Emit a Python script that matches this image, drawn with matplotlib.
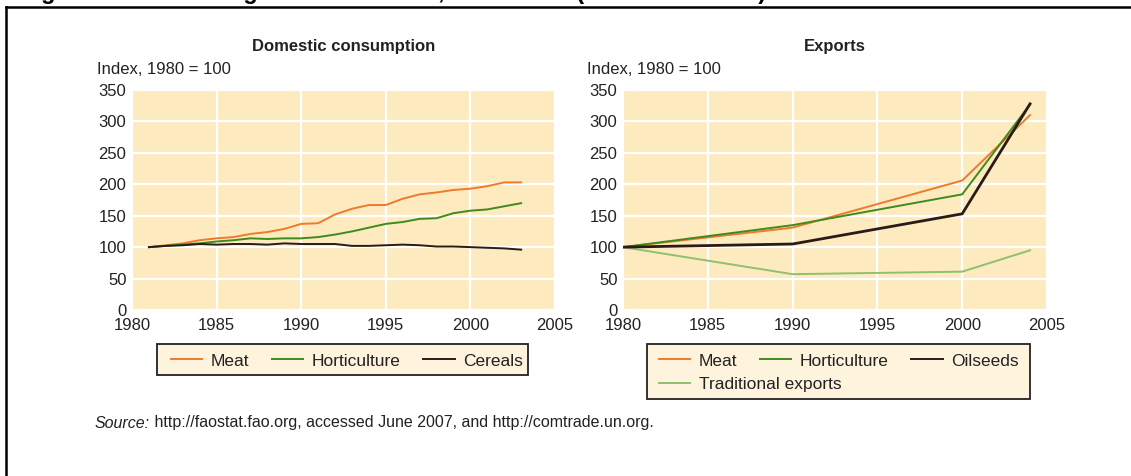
import matplotlib
matplotlib.use("Agg")
import matplotlib.pyplot as plt
from matplotlib.patches import Rectangle
from matplotlib.text import Annotation

plt.rcParams['font.family'] = ['Liberation Sans', 'DejaVu Sans']

# Domestic consumption, index 1980 = 100
dom_years = list(range(1981, 2004))
dom_meat = [100, 103, 106, 111, 114, 116, 121, 124, 129, 137, 138, 152,
            161, 167, 167, 177, 184, 187, 191, 193, 197, 203, 203]
dom_hort = [100, 102, 104, 106, 109, 111, 114, 113, 114, 114, 116, 120,
            125, 131, 137, 140, 145, 146, 154, 158, 160, 165, 170]
dom_cereals = [100, 102, 103, 105, 104, 105, 105, 104, 106, 105, 105, 105,
               102, 102, 103, 104, 103, 101, 101, 100, 99, 98, 96]

# Exports, index 1980 = 100
exp_years = [1980, 1990, 2000, 2004]
exp_meat = [100, 131, 206, 310]
exp_hort = [100, 135, 184, 327]
exp_oilseeds = [100, 105, 153, 328]
exp_trad = [100, 57, 61, 95]

xticks = [1980, 1985, 1990, 1995, 2000, 2005]
yticks = [0, 50, 100, 150, 200, 250, 300, 350]

c_meat = '#ef7a2c'
c_hort = '#3f8a1f'
c_dark = '#2a1b16'
c_trad = '#8fc06f'
bg = '#fdebbf'
txt = '#222222'

W, H = 1131, 476
fig = plt.figure(figsize=(W / 100, H / 100), dpi=100)

def fx(px):
    return px / W

def fy(py):
    return 1 - py / H

def box(x0, y0, x1, y1):
    return [fx(x0), fy(y1), (x1 - x0) / W, (y1 - y0) / H]

ax1 = fig.add_axes(box(132, 90, 555, 310))
ax2 = fig.add_axes(box(623, 90, 1047, 310))

for ax in (ax1, ax2):
    ax.set_facecolor(bg)
    ax.set_xlim(1980, 2005)
    ax.set_ylim(0, 350)
    ax.set_xticks(xticks)
    ax.set_yticks(yticks)
    ax.grid(True, color='white', linewidth=1.6)
    ax.set_axisbelow(True)
    for s in ax.spines.values():
        s.set_visible(False)
    ax.tick_params(length=0, labelsize=12, colors=txt)
    ax.tick_params(axis='x', pad=6)
    ax.tick_params(axis='y', pad=4)

lw = 1.4
m1, = ax1.plot(dom_years, dom_meat, color=c_meat, lw=lw)
h1, = ax1.plot(dom_years, dom_hort, color=c_hort, lw=lw)
k1, = ax1.plot(dom_years, dom_cereals, color=c_dark, lw=lw)

m2, = ax2.plot(exp_years, exp_meat, color=c_meat, lw=lw)
h2, = ax2.plot(exp_years, exp_hort, color=c_hort, lw=lw)
t2, = ax2.plot(exp_years, exp_trad, color=c_trad, lw=lw)
k2, = ax2.plot(exp_years, exp_oilseeds, color=c_dark, lw=2.0)
k2_leg = plt.Line2D([], [], color=c_dark, lw=lw)

fig.text(fx(343.5), fy(47), 'Domestic consumption', ha='center', va='center',
         fontsize=12, fontweight='bold', color=txt)
fig.text(fx(835), fy(47), 'Exports', ha='center', va='center',
         fontsize=12, fontweight='bold', color=txt)
fig.text(fx(97), fy(70), 'Index, 1980 = 100', ha='left', va='center',
         fontsize=12, color=txt)
fig.text(fx(587), fy(70), 'Index, 1980 = 100', ha='left', va='center',
         fontsize=12, color=txt)

# legend frames
for (x0, y0, x1, y1) in [(157, 344, 528, 375), (647, 344, 1030, 399)]:
    fig.add_artist(Rectangle((fx(x0), fy(y1)), (x1 - x0) / W, (y1 - y0) / H,
                             transform=fig.transFigure, facecolor='#fef4de',
                             edgecolor='#222222', lw=1.3, zorder=1))

leg_kw = dict(fontsize=12.5, frameon=False, handlelength=1.8, handletextpad=0.5,
              columnspacing=1.3, borderpad=0, borderaxespad=0, loc='center left')
l1 = fig.legend([m1, h1, k1], ['Meat', 'Horticulture', 'Cereals'], ncol=3,
                bbox_to_anchor=(fx(171), fy(361)), **leg_kw)
l2 = fig.legend([m2, h2, k2_leg], ['Meat', 'Horticulture', 'Oilseeds'], ncol=3,
                bbox_to_anchor=(fx(659), fy(361)), **leg_kw)
l3 = fig.legend([t2], ['Traditional exports'],
                bbox_to_anchor=(fx(659), fy(384)), **leg_kw)
for leg in (l1, l2, l3):
    leg.set_zorder(3)
    for t in leg.get_texts():
        t.set_color(txt)

src = fig.text(fx(95), fy(423), 'Source:', ha='left', va='center',
               fontsize=11.5, style='italic', color=txt)
fig.add_artist(Annotation(
    ' http://faostat.fao.org, accessed June 2007, and http://comtrade.un.org.',
    xy=(1, 0), xycoords=src, va='bottom', ha='left', fontsize=11.5, color=txt))

# figure caption clipped by the top edge, and the frame lines
fig.text(fx(20), fy(-1.5), 'Figure 3: Selected agricultural trends, 1980\u20132005 (Index 1980=100)',
         ha='left', va='baseline', fontsize=17, fontweight='bold', color='black')
fig.add_artist(plt.Line2D([fx(6), 1], [fy(7), fy(7)], color='black', lw=1.8,
                          transform=fig.transFigure))
fig.add_artist(plt.Line2D([fx(6), fx(6)], [0, fy(7)], color='black', lw=1.8,
                          transform=fig.transFigure))

fig.savefig('out.png', dpi=100)
